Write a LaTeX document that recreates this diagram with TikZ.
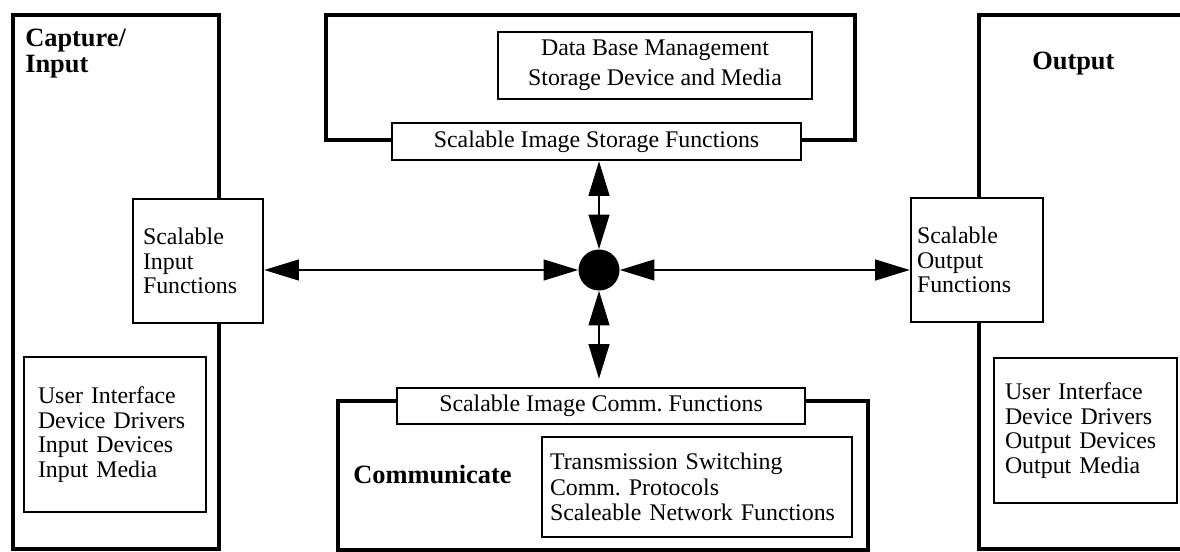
\documentclass[tikz,border=0pt]{standalone}
\usepackage{fontspec}
\setmainfont{Liberation Serif}
\usetikzlibrary{arrows.meta}
\frenchspacing
\begin{document}
\begin{tikzpicture}[x=0.75pt,y=-0.75pt,
  every node/.style={font=\fontsize{17.9pt}{18.5pt}\selectfont},
  outer/.style={line width=3.6pt},
  inbox/.style={draw, line width=1.8pt, fill=white, inner ysep=0pt},
  head/.style={font=\bfseries\fontsize{19.8pt}{19.5pt}\selectfont, inner sep=0pt, align=left, anchor=base west},
  bigtip/.tip={Triangle[length=26pt,width=15.5pt]},
  conn/.style={line width=1.8pt, bigtip-bigtip}]
\useasboundingbox (0,0) rectangle (1180,552);

% outer frames
\draw[outer] (13,15) rectangle (219,549);
\draw[outer] (1180,15) -- (979,15) -- (979,549) -- (1180,549);
\draw[outer] (326,15) rectangle (855,140);
\draw[outer] (338,401) rectangle (868,550);

% inner boxes
\node[inbox, minimum width=97.5pt, minimum height=93pt, text width=82.5pt, inner xsep=7.5pt, align=left] (inf) at (198,261) {Scalable\\Input\\Functions};
\node[inbox, minimum width=99pt, minimum height=93pt, text width=90pt, inner xsep=4.5pt, align=left] (outf) at (977,260) {Scalable\\Output\\Functions};
\node[inbox, minimum width=136.5pt, minimum height=116.25pt, text width=115.5pt, inner xsep=10.5pt, align=left] (uil) at (115,434.5) {User Interface\\Device Drivers\\Input Devices\\Input Media};
\node[inbox, minimum width=137.25pt, minimum height=108.75pt, text width=120.75pt, inner xsep=8.25pt, align=left] (uir) at (1085.5,430.5) {User Interface\\Device Drivers\\Output Devices\\Output Media};
\node[inbox, minimum width=235.5pt, minimum height=50.25pt, align=center, font=\fontsize{17.9pt}{22.5pt}\selectfont] (db) at (655,65.5) {Data Base Management\\Storage Device and Media};
\node[inbox, minimum width=306.75pt, minimum height=27.75pt] (sto) at (596.5,141.5) {Scalable Image Storage Functions};
\node[inbox, minimum width=306pt, minimum height=27pt] (com) at (601,406) {Scalable Image Comm. Functions};
\node[inbox, minimum width=232.5pt, minimum height=75pt, text width=220.5pt, inner xsep=6pt, align=left, font=\fontsize{17.9pt}{19.1pt}\selectfont] (tr) at (697,487) {Transmission Switching\\Comm. Protocols\\Scaleable Network Functions};

% headings
\node[head] (cap) at (25,73) {Capture/\\Input};
\node[head] (comm) at (353,483) {Communicate};
\node[head] (out) at (1032,70) {Output};

% hub
\node[circle, fill=black, minimum size=30.75pt, inner sep=0pt] (dot) at (599,270) {};

% connectors
\draw[conn] (dot.west -| inf.east) -- (dot.west);
\draw[conn] (dot.east) -- (dot.east -| outf.west);
\draw[conn] (dot.north |- sto.south) -- (dot.north);
\draw[conn, shorten >=6pt] (dot.south) -- (dot.south |- com.north);
\end{tikzpicture}
\end{document}
